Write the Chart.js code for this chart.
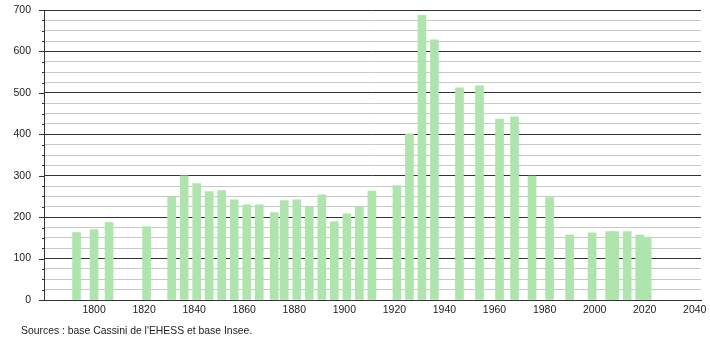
<!DOCTYPE html>
<html>
<head>
<meta charset="utf-8">
<script src="https://cdn.jsdelivr.net/npm/chart.js@4"></script>
<style>
  html, body { margin: 0; padding: 0; background: #fff; }
  #wrap { position: relative; width: 710px; height: 340px; }
  #source { position: absolute; left: 21px; top: 325px; font: 10.4px "Liberation Sans", Arial, sans-serif; color: #222; white-space: nowrap; }
</style>
</head>
<body>
<div id="wrap">
  <canvas id="c" width="710" height="340"></canvas>
  <div id="source">Sources : base Cassini de l'EHESS et base Insee.</div>
</div>
<script>
const years = [1793, 1800, 1806, 1821, 1831, 1836, 1841, 1846, 1851, 1856, 1861, 1866, 1872, 1876, 1881, 1886, 1891, 1896, 1901, 1906, 1911, 1921, 1926, 1931, 1936, 1946, 1954, 1962, 1968, 1975, 1982, 1990, 1999, 2006, 2008, 2013, 2018, 2021];
const population = [163, 170, 187, 177, 248, 300, 281, 262, 264, 242, 230, 230, 211, 240, 242, 224, 254, 189, 208, 224, 263, 276, 401, 687, 628, 512, 517, 437, 442, 299, 247, 157, 162, 165, 165, 165, 157, 152];
const xTickLabels = [1800, 1820, 1840, 1860, 1880, 1900, 1920, 1940, 1960, 1980, 2000, 2020, 2040];
const yTickLabels = [0, 100, 200, 300, 400, 500, 600, 700];

const FONT = { family: '"Liberation Sans", Arial, sans-serif', size: 10.5 };
const DARK = '#333333';
const LIGHT = '#c8c8c8';

const tickMarks = {
  id: 'tickMarks',
  afterDraw(chart) {
    const y = chart.scales.y;
    const ctx = chart.ctx;
    ctx.save();
    ctx.strokeStyle = DARK;
    ctx.lineWidth = 1;
    y.ticks.forEach(t => {
      const py = Math.round(y.getPixelForValue(t.value)) + 0.5;
      const len = (t.value % 100 === 0) ? 5 : 2;
      ctx.beginPath();
      ctx.moveTo(y.right - len, py);
      ctx.lineTo(y.right, py);
      ctx.stroke();
    });
    const x0 = Math.round(y.right) + 0.5;
    ctx.beginPath();
    ctx.moveTo(x0, chart.chartArea.top);
    ctx.lineTo(x0, chart.chartArea.bottom);
    ctx.stroke();
    ctx.restore();
  }
};

new Chart(document.getElementById('c'), {
  type: 'bar',
  data: {
    datasets: [{
      data: years.map((yr, i) => ({ x: yr, y: population[i] })),
      backgroundColor: '#ade5ad',
      borderWidth: 0,
      barThickness: 8,
      grouped: false
    }]
  },
  options: {
    responsive: false,
    animation: false,
    layout: { padding: { top: 10, right: 9, left: 0, bottom: 0 } },
    plugins: { legend: { display: false }, tooltip: { enabled: false } },
    scales: {
      x: {
        type: 'linear',
        min: 1780,
        max: 2042.5,
        offset: false,
        afterBuildTicks(scale) { scale.ticks = xTickLabels.map(v => ({ value: v })); },
        afterFit(scale) { scale.height = 40; scale.paddingLeft = 0; scale.paddingRight = 0; },
        ticks: { font: FONT, color: '#222', padding: 4, maxRotation: 0, autoSkip: false, callback: v => String(v) },
        grid: { display: false, drawTicks: false },
        border: { display: true, color: DARK, width: 1 }
      },
      y: {
        min: 0,
        max: 700,
        afterBuildTicks(scale) {
          const t = [];
          for (let v = 0; v <= 700; v += 25) t.push({ value: v });
          scale.ticks = t;
        },
        afterFit(scale) { scale.width = 44; scale.paddingTop = 0; scale.paddingBottom = 0; },
        ticks: {
          font: FONT, color: '#222', padding: 13, autoSkip: false,
          callback: v => yTickLabels.includes(v) ? String(v) : ''
        },
        grid: {
          drawTicks: false,
          color: ctx => (ctx.tick && ctx.tick.value % 100 === 0) ? DARK : LIGHT,
          lineWidth: 1
        },
        border: { display: false }
      }
    }
  },
  plugins: [tickMarks]
});
</script>
</body>
</html>
